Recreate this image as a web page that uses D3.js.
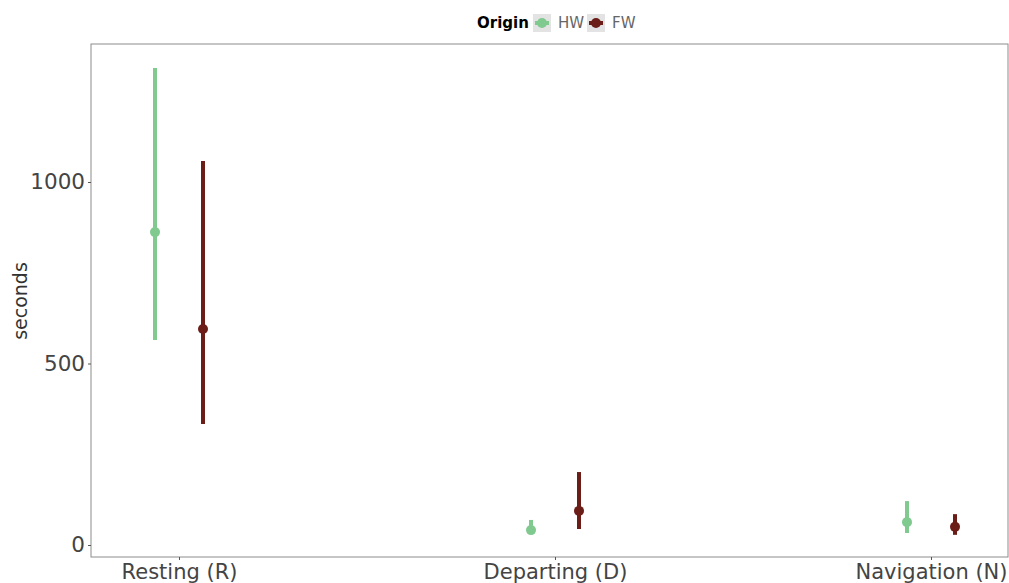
<!DOCTYPE html>
<html><head><meta charset="utf-8">
<script src="https://cdn.jsdelivr.net/npm/d3@7"></script>
<style>body{margin:0;background:#fff}svg{display:block}text{font-family:"DejaVu Sans",sans-serif}</style>
</head><body><svg id="c" width="1009" height="583"></svg>
<script>
const categories = ["Resting (R)", "Departing (D)", "Navigation (N)"];
const origins = ["HW", "FW"];
const hwMean = [862, 41, 63];
const hwLow = [565, 30, 33];
const hwHigh = [1314, 69, 121];
const fwMean = [595, 94, 50];
const fwLow = [333, 44, 28];
const fwHigh = [1058, 201, 85];
const yTicks = [0, 500, 1000];
const colors = {HW: "#80c98f", FW: "#6b1d18"};

const svg = d3.select("#c");
const L = 91, R = 1008, T = 44, B = 557;
const y = d3.scaleLinear().domain([0, 1000]).range([545, 182]);
const x = d3.scalePoint().domain(categories).range([179, 931]);
const dodge = d3.scalePoint().domain(origins).range([-24, 24]);

const rows = [];
categories.forEach((c, i) => {
  rows.push({cat: c, org: "HW", m: hwMean[i], lo: hwLow[i], hi: hwHigh[i]});
  rows.push({cat: c, org: "FW", m: fwMean[i], lo: fwLow[i], hi: fwHigh[i]});
});

svg.append("rect").attr("x", L).attr("y", T).attr("width", R - L).attr("height", B - T)
  .attr("fill", "#fff").attr("stroke", "#8c8c8c").attr("stroke-width", 1);

const yAxis = svg.append("g").attr("transform", `translate(${L},0)`)
  .call(d3.axisLeft(y).tickValues(yTicks).tickFormat(d3.format("d")).tickSize(3).tickPadding(3));
yAxis.select(".domain").remove();
yAxis.selectAll("line").attr("stroke", "#555");
yAxis.selectAll("text").attr("font-size", 21.5).attr("fill", "#444");

const xAxis = svg.append("g").attr("transform", `translate(0,${B})`)
  .call(d3.axisBottom(x).tickSize(3).tickPadding(4));
xAxis.select(".domain").remove();
xAxis.selectAll("line").attr("stroke", "#555");
xAxis.selectAll("text").attr("font-size", 21).attr("fill", "#444");

svg.append("text").attr("transform", "translate(27,301) rotate(-90)")
  .attr("text-anchor", "middle").attr("font-size", 19).attr("fill", "#333").text("seconds");

const g = svg.append("g");
g.selectAll("line.err").data(rows).join("line")
  .attr("x1", d => x(d.cat) + dodge(d.org)).attr("x2", d => x(d.cat) + dodge(d.org))
  .attr("y1", d => y(d.lo)).attr("y2", d => y(d.hi))
  .attr("stroke", d => colors[d.org]).attr("stroke-width", 4);
g.selectAll("circle").data(rows).join("circle")
  .attr("cx", d => x(d.cat) + dodge(d.org)).attr("cy", d => y(d.m)).attr("r", 5)
  .attr("fill", d => colors[d.org]);

// legend
const lg = svg.append("g");
lg.append("text").attr("x", 477).attr("y", 28).attr("font-size", 15).attr("font-weight", "bold")
  .attr("fill", "#000").text("Origin");
const lx = [533, 587];
origins.forEach((o, i) => {
  lg.append("rect").attr("x", lx[i]).attr("y", 14).attr("width", 18).attr("height", 18).attr("fill", "#e3e3e3");
  lg.append("line").attr("x1", lx[i] + 2).attr("x2", lx[i] + 16).attr("y1", 23).attr("y2", 23)
    .attr("stroke", colors[o]).attr("stroke-width", 4);
  lg.append("circle").attr("cx", lx[i] + 9).attr("cy", 23).attr("r", 5).attr("fill", colors[o]);
  lg.append("text").attr("x", lx[i] + 25).attr("y", 28).attr("font-size", 15).attr("fill", "#666").text(o);
});
</script></body></html>
